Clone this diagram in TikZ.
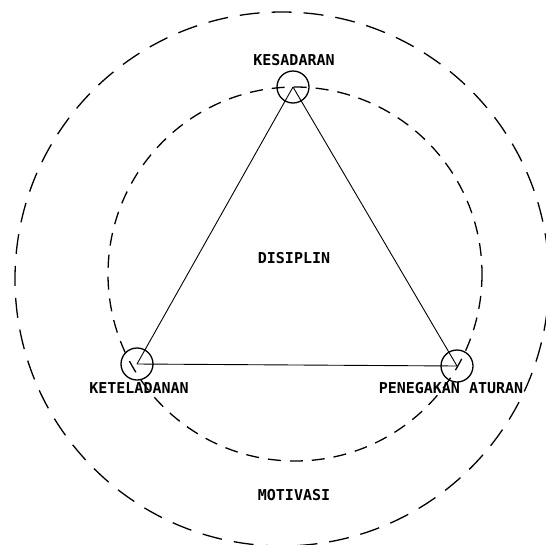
\documentclass[tikz,border=0pt]{standalone}
\usepackage{fontspec}
\usepackage{tikz}
\usetikzlibrary{positioning}
\newfontfamily\plotfont{DejaVu Sans Mono}

\begin{document}
\begin{tikzpicture}[x=1pt, y=-1pt,
  vtx/.style={
    circle, draw, line width=1.3pt,
    minimum size=32pt, inner sep=0pt
  },
  lbl/.style={font=\plotfont\bfseries\fontsize{15}{15}\selectfont, inner sep=0pt},
  ring/.style={line width=1.3pt, dash pattern=on 20pt off 12pt},
  inring/.style={line width=1.3pt, dash pattern=on 13pt off 9pt},
  side/.style={line width=0.9pt}
]
  \useasboundingbox (0,0) rectangle (546,544);
  \clip (0,0) rectangle (546,544);

  % outer and inner dashed rings
  \draw[ring] (282,279) circle (267);
  \draw[inring] (295,274) circle (187);

  \node[vtx] (kes) at (293,87) {};
  \node[vtx] (ket) at (137,364) {};
  \node[vtx] (pen) at (457,366) {};

  \draw[side] (kes.center) -- (ket.center);
  \draw[side] (ket.center) -- (pen.center);
  \draw[side] (pen.center) -- (kes.center);

  \node[lbl] (kesl) at (294,60) {KESADARAN};
  \node[lbl] (ketl) at (139,388) {KETELADANAN};
  \node[lbl] (penl) at (451,388) {PENEGAKAN ATURAN};
  \node[lbl] (dis) at (294,258) {DISIPLIN};
  \node[lbl] (mot) at (294,495) {MOTIVASI};
\end{tikzpicture}
\end{document}
